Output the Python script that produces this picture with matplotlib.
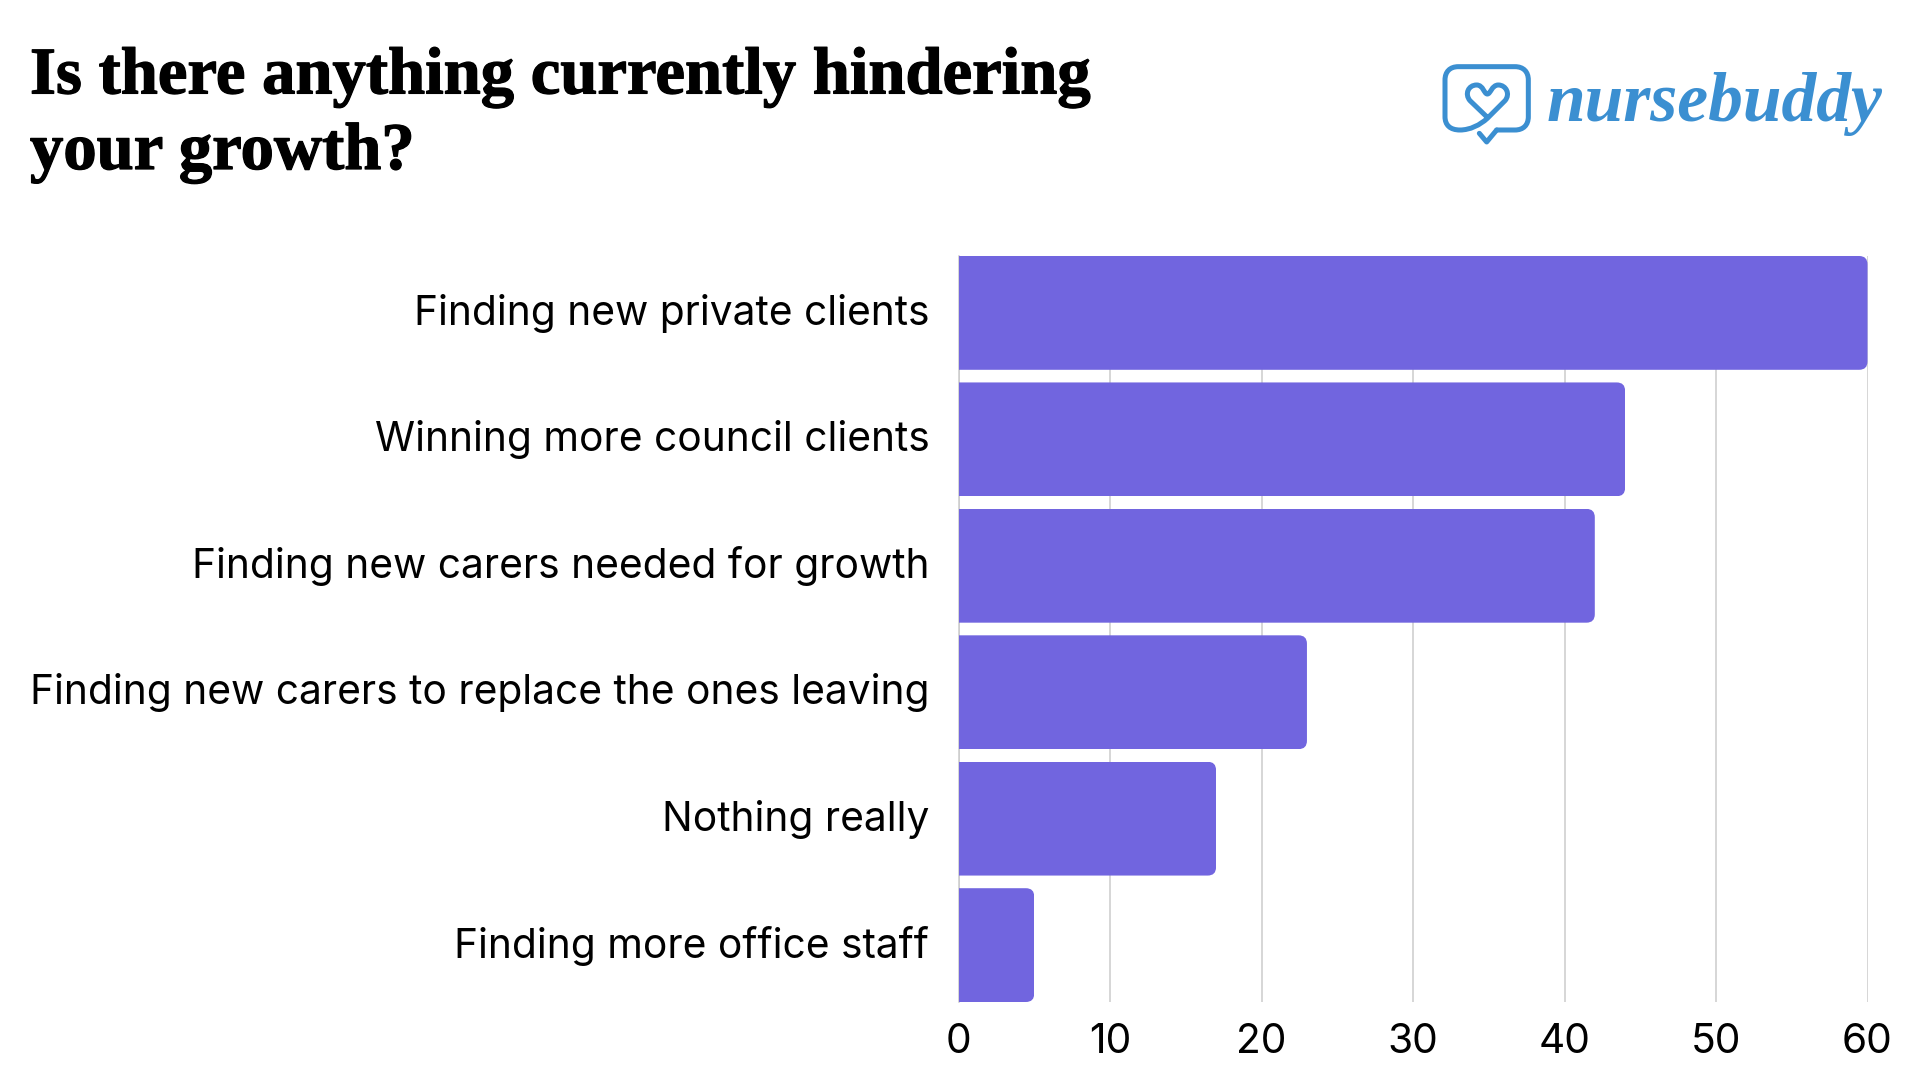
import matplotlib
matplotlib.use("Agg")
import matplotlib.pyplot as plt
import matplotlib.patheffects as pe
from matplotlib.patches import FancyBboxPatch, PathPatch
from matplotlib.path import Path
from matplotlib.transforms import ScaledTranslation

categories = [
    "Finding new private clients",
    "Winning more council clients",
    "Finding new carers needed for growth",
    "Finding new carers to replace the ones leaving",
    "Nothing really",
    "Finding more office staff",
]
values = [60, 44, 42, 23, 17, 5]
xticks = [0, 10, 20, 30, 40, 50, 60]
title = "Is there anything currently hindering\nyour growth?"

W, H = 1920, 1080
BLUE = "#3b8fd1"
PURPLE = "#7165df"

fig = plt.figure(figsize=(W / 100, H / 100), dpi=100, facecolor="white")
ax = fig.add_axes([958.5 / W, 1 - 1002 / H, 909 / W, 746 / H])

y = list(range(len(values)))
bars = ax.barh(y, values, height=0.9, color=PURPLE, linewidth=0, zorder=3)
ax.set_xlim(0, 60)
ax.set_ylim(5.45, -0.45)

# rounded right corners, clip each bar to a rounded box
for b in bars:
    box = FancyBboxPatch((-2, b.get_y()), b.get_width() + 2, b.get_height(),
                         boxstyle="round,pad=0,rounding_size=0.55",
                         mutation_aspect=0.12, transform=ax.transData)
    b.set_clip_path(box)

ax.set_yticks(y, categories)
ax.set_xticks(xticks)
ax.tick_params(length=0)
ax.tick_params(axis="y", pad=21, labelsize=29.3)
ax.tick_params(axis="x", pad=15, labelsize=29.3)
for t in ax.get_xticklabels() + ax.get_yticklabels():
    t.set_family("Inter")
    t.set_color("black")
# labels sit a bit above the bar centre
up = ScaledTranslation(0, 2.5 / 72, fig.dpi_scale_trans)
for t in ax.get_yticklabels():
    t.set_transform(t.get_transform() + up)
ax.grid(axis="x", color="#cccccc", linewidth=1.1, zorder=1)
ax.set_axisbelow(True)
for s in ["top", "right", "bottom"]:
    ax.spines[s].set_visible(False)
ax.spines["left"].set_color("#cccccc")
ax.spines["left"].set_linewidth(1.1)

tt = fig.text(30 / W, 1 - 169 / H, title, family="Liberation Serif", weight="bold",
              fontsize=48, color="black", linespacing=1.31, ha="left", va="baseline")
tt.set_path_effects([pe.withStroke(linewidth=0.9, foreground="black")])

# logo, coords are in a 3x grid of the region
lg = fig.add_axes([1400 / W, 1 - 180 / H, 520 / W, 150 / H])
lg.set_xlim(0, 1560)
lg.set_ylim(450, 0)
lg.axis("off")
M, L, C = Path.MOVETO, Path.LINETO, Path.CURVE4
bubble = [
    ((290, 300), M), ((345, 300), L),
    ((370, 300), C), ((385, 285), C), ((385, 260), C),
    ((385, 150), L),
    ((385, 125), C), ((370, 110), C), ((345, 110), C),
    ((175, 110), L),
    ((150, 110), C), ((135, 125), C), ((135, 150), C),
    ((135, 260), L),
    ((135, 285), C), ((150, 300), C), ((180, 300), C),
    ((210, 300), C), ((240, 285), C), ((262, 265), C),
    ((315, 212), L),
    ((332, 192), C), ((318, 165), C), ((295, 165), C),
    ((275, 165), C), ((272, 192), C), ((262, 192), C),
    ((252, 192), C), ((250, 165), C), ((230, 165), C),
    ((205, 165), C), ((193, 192), C), ((210, 212), C),
    ((262, 262), L),
]
tail = [((238, 310), M), ((260, 336), L), ((290, 300), L)]
for pts in (bubble, tail):
    lg.add_patch(PathPatch(Path([p[0] for p in pts], [p[1] for p in pts]), fc="none",
                           ec=BLUE, lw=3.6, capstyle="round", joinstyle="round"))
lg.text(440, 272, "nursebuddy", family="Liberation Serif", style="italic", weight="bold",
        color=BLUE, fontsize=50, ha="left", va="baseline")

fig.savefig("out.png", dpi=100)
